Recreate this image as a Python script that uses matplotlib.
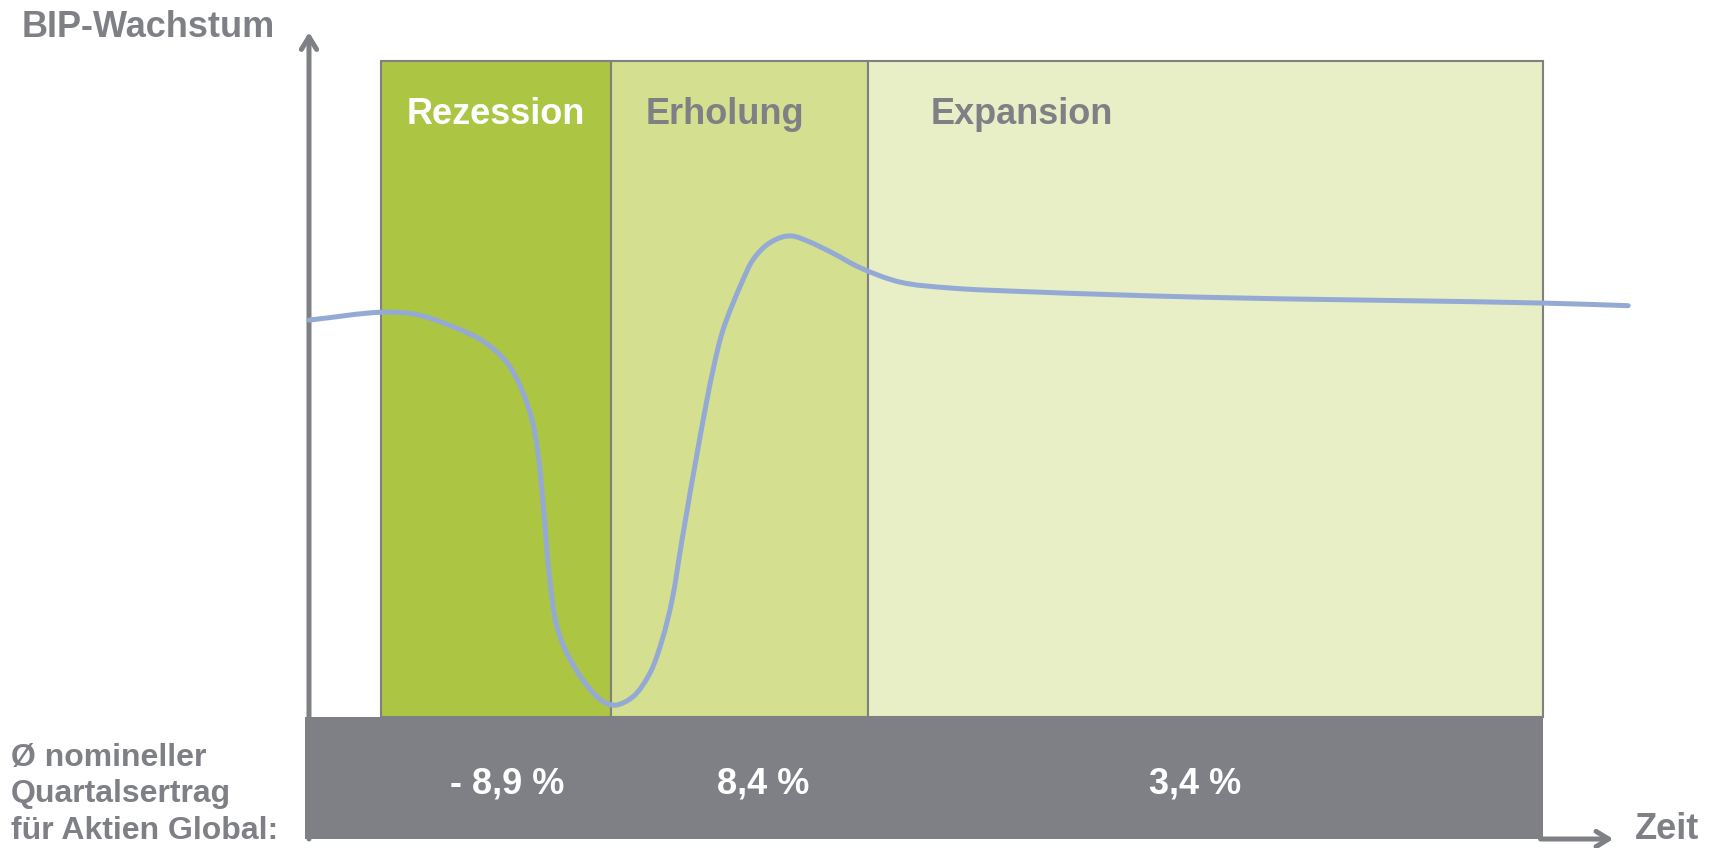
import matplotlib
matplotlib.use("Agg")
import matplotlib.pyplot as plt
import numpy as np
from matplotlib.patches import Rectangle, PathPatch
from matplotlib.path import Path

plt.rcParams['font.family'] = ['Liberation Sans', 'DejaVu Sans']
plt.rcParams['font.weight'] = 'bold'

# phases (time axis, box right edge = 100)
phases = ["Rezession", "Erholung", "Expansion"]
phase_start = [5.8, 24.5, 45.3]
phase_end = [24.5, 45.3, 100.0]
phase_colors = ["#acc543", "#d4df8f", "#e8eec6"]
phase_text_colors = ["white", "#7e8085", "#7e8085"]
phase_label_x = [7.9, 27.3, 50.4]

# average nominal quarterly return per phase
returns = ["- 8,9 %", "8,4 %", "3,4 %"]
return_x = [16.1, 36.8, 71.8]

# GDP growth curve (arbitrary units)
t = [0, 5.83, 8.59, 11.67, 14.18, 16.05, 17.26, 18.07, 18.56, 19.04, 19.45,
     20.10, 21.07, 22.61, 23.80, 24.80, 26.26, 27.63, 28.61, 29.42, 30.23,
     31.69, 32.74, 33.55, 35.09, 35.98, 37.12, 38.41,
     39.22, 40.60, 42.46, 44.65, 47.89, 51.94, 58.67, 72.20, 100.0, 106.9]
gdp = [60.5, 61.7, 61.4, 59.5, 57.2, 54.0, 49.8, 45.3, 40.2, 31.1, 22.0,
       13.7, 9.1, 4.6, 2.4, 1.8, 3.1, 6.7, 11.7, 17.8, 27.0,
       42.7, 52.9, 59.0, 66.3, 69.7, 72.0, 73.2,
       73.3, 72.4, 70.7, 68.5, 66.3, 65.4, 64.8, 64.0, 63.1, 62.7]

left_label = ["Ø nomineller", "Quartalsertrag", "für Aktien Global:"]

gray = "#7e8085"
band_bottom = -18.6
XLIM = (-25.04, 114.02)
YLIM = (-19.97, 109.30)
W, H = 1716, 848


def smooth_path(x, y, alpha=0.5):
    # centripetal catmull-rom through the points, built as bezier segments
    sx = W / (XLIM[1] - XLIM[0])
    sy = H / (YLIM[1] - YLIM[0])
    P = np.column_stack([np.asarray(x, float) * sx, np.asarray(y, float) * sy])
    P = np.vstack([2 * P[0] - P[1], P, 2 * P[-1] - P[-2]])
    verts = [P[1]]
    codes = [Path.MOVETO]
    for i in range(1, len(P) - 2):
        p0, p1, p2, p3 = P[i - 1], P[i], P[i + 1], P[i + 2]
        d1 = np.linalg.norm(p1 - p0) ** alpha
        d2 = np.linalg.norm(p2 - p1) ** alpha
        d3 = np.linalg.norm(p3 - p2) ** alpha
        b1 = (d1 ** 2 * p2 - d2 ** 2 * p0 + (2 * d1 ** 2 + 3 * d1 * d2 + d2 ** 2) * p1) / (3 * d1 * (d1 + d2))
        b2 = (d3 ** 2 * p1 - d2 ** 2 * p3 + (2 * d3 ** 2 + 3 * d3 * d2 + d2 ** 2) * p2) / (3 * d3 * (d3 + d2))
        verts += [b1, b2, p2]
        codes += [Path.CURVE4] * 3
    verts = np.array(verts) / [sx, sy]
    return Path(verts, codes)


fig = plt.figure(figsize=(W / 100, H / 100), dpi=100)
ax = fig.add_axes([0, 0, 1, 1])
ax.set_xlim(*XLIM)
ax.set_ylim(*YLIM)
ax.axis('off')

# phase boxes
for i in range(len(phases)):
    ax.add_patch(Rectangle((phase_start[i], 0), phase_end[i] - phase_start[i], 100,
                           facecolor=phase_colors[i], edgecolor="#808080", lw=1.5, zorder=1))
    ax.text(phase_label_x[i], 90.4, phases[i], color=phase_text_colors[i],
            fontsize=26, ha='left', va='baseline', zorder=5)

# return band
ax.add_patch(Rectangle((-0.3, band_bottom), 100.3, -band_bottom,
                       facecolor=gray, edgecolor='none', zorder=2))
for x, r in zip(return_x, returns):
    ax.text(x, -11.6, r, color='white', fontsize=26, ha='center', va='baseline', zorder=5)

# curve
ax.add_patch(PathPatch(smooth_path(t, gdp), facecolor='none', edgecolor="#94aad4",
                       lw=3.6, capstyle='round', joinstyle='round', zorder=4))

# axes arrows
ax.annotate("", xy=(0, 104.4), xytext=(0, band_bottom),
            arrowprops=dict(arrowstyle="->,head_length=0.9,head_width=0.55",
                            color=gray, lw=3.6, shrinkA=0, shrinkB=0), zorder=3)
ax.annotate("", xy=(105.7, band_bottom), xytext=(99.8, band_bottom),
            arrowprops=dict(arrowstyle="->,head_length=0.9,head_width=0.55",
                            color=gray, lw=3.6, shrinkA=0, shrinkB=0), zorder=3)

ax.text(-23.3, 103.7, "BIP-Wachstum", color=gray, fontsize=26, ha='left', va='baseline')
ax.text(107.45, band_bottom, "Zeit", color=gray, fontsize=26, ha='left', va='baseline')

for y, line in zip([-7.5, -13.0, -18.6], left_label):
    ax.text(-24.15, y, line, color=gray, fontsize=23, ha='left', va='baseline')

fig.savefig("out.png", dpi=100)
